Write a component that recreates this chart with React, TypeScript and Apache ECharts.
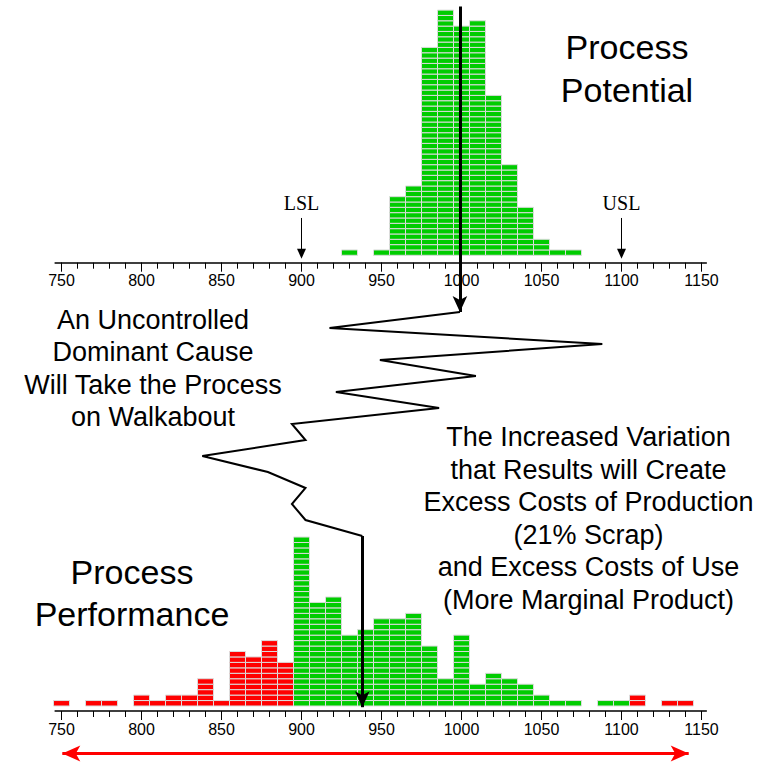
import React, { useEffect, useRef } from "react";
import * as echarts from "echarts";

// ---------- data ----------
const LSL = 900;
const USL = 1100;
const BIN_WIDTH = 10;
const majorTicks = [750, 800, 850, 900, 950, 1000, 1050, 1100, 1150];
const minorTicks = [
  750, 760, 770, 780, 790, 800, 810, 820, 830, 840, 850, 860, 870, 880, 890,
  900, 910, 920, 930, 940, 950, 960, 970, 980, 990, 1000, 1010, 1020, 1030,
  1040, 1050, 1060, 1070, 1080, 1090, 1100, 1110, 1120, 1130, 1140, 1150,
];

// Process Potential histogram (one brick per observation)
const potentialBins = [930, 950, 960, 970, 980, 990, 1000, 1010, 1020, 1030, 1040, 1050, 1060, 1070];
const potentialCounts = [1, 1, 11, 13, 39, 46, 43, 44, 30, 17, 9, 3, 1, 1];

// Process Performance histogram
const performanceBins = [
  750, 770, 780, 800, 810, 820, 830, 840, 850, 860, 870, 880, 890, 900, 910,
  920, 930, 940, 950, 960, 970, 980, 990, 1000, 1010, 1020, 1030, 1040, 1050,
  1060, 1070, 1090, 1100, 1110, 1130, 1140,
];
const performanceCounts = [
  1, 1, 1, 2, 1, 2, 2, 5, 1, 10, 9, 12, 8, 31, 19, 20, 13, 14, 16, 16, 17, 11,
  5, 13, 4, 6, 5, 4, 2, 1, 1, 1, 1, 2, 1, 1,
];

// The walkabout of the process mean (one value per period)
const walkMeans = [999, 917.5, 1088, 949, 1009, 921.5, 986, 894, 902.5, 838, 879, 902.5, 894, 902.5, 938];
const walkStartIdx = -19.1;
const walkEndIdx = 24.7;
const rangeArrowIdx = 27.6;
const performanceMin = 750.5;
const performanceMax = 1142;

const texts = {
  potential: "Process\nPotential",
  performance: "Process\nPerformance",
  cause: "An Uncontrolled\nDominant Cause\nWill Take the Process\non Walkabout",
  effect:
    "The Increased Variation\nthat Results will Create\nExcess Costs of Production\n(21% Scrap)\nand Excess Costs of Use\n(More Marginal Product)",
};

// ---------- layout ----------
const X_MIN = 746;
const X_MAX = 1153;
const PX_PER_UNIT = 1.6;
const X750 = 61.5;
const GRID_LEFT = X750 - (750 - X_MIN) * PX_PER_UNIT;
const GRID_WIDTH = (X_MAX - X_MIN) * PX_PER_UNIT;
const W = 765;
const H = 769;

const GREEN = "#00cc00";
const RED = "#ff0000";
const FONT = "'Liberation Sans', Arial, sans-serif";
const TICK_FONT = "'Liberation Sans', Arial, sans-serif";

function histAxes(gridIndex: number) {
  return [
    {
      type: "value",
      gridIndex,
      min: X_MIN,
      max: X_MAX,
      position: "bottom",
      axisLine: { show: true, onZero: false, lineStyle: { color: "#000", width: 1.5 } },
      axisTick: { show: true, customValues: minorTicks, length: 6, lineStyle: { color: "#000", width: 1 } },
      axisLabel: { show: false },
      splitLine: { show: false },
    },
    {
      type: "value",
      gridIndex,
      min: X_MIN,
      max: X_MAX,
      position: "bottom",
      axisLine: { show: false, onZero: false },
      axisTick: { show: true, customValues: majorTicks, length: 9, lineStyle: { color: "#000", width: 1 } },
      axisLabel: {
        show: true,
        customValues: majorTicks,
        formatter: (v: number) => String(v),
        color: "#000",
        fontSize: 16,
        fontFamily: TICK_FONT,
        margin: 10,
      },
      splitLine: { show: false },
    },
  ];
}

function brickSeries(bins: number[], counts: number[], xAxisIndex: number, yAxisIndex: number, colorBySpec: boolean) {
  return {
    type: "custom",
    xAxisIndex,
    yAxisIndex,
    silent: true,
    clip: false,
    data: bins.map((b, i) => [b, counts[i]]),
    encode: { x: 0, y: 1 },
    renderItem: (params: any, api: any) => {
      const x = api.value(0);
      const n = api.value(1);
      const fill = colorBySpec && (x < LSL || x > USL) ? RED : GREEN;
      const children: any[] = [];
      for (let k = 0; k < n; k++) {
        const a = api.coord([x - BIN_WIDTH / 2, k + 1]);
        const b = api.coord([x + BIN_WIDTH / 2, k]);
        children.push({
          type: "rect",
          shape: { x: a[0], y: a[1], width: b[0] - a[0], height: b[1] - a[1] },
          style: { fill, stroke: "#dcdcdc", lineWidth: 1 },
        });
      }
      return { type: "group", children };
    },
  };
}

export default function App() {
  const ref = useRef<HTMLDivElement>(null);

  useEffect(() => {
    if (!ref.current) return;
    document.body.style.margin = "0";
    const chart = echarts.init(ref.current, undefined, { renderer: "svg" });

    const topAxisY = 262.7;
    const topYMin = -1.39;
    const topYMax = 47;
    const topPitch = 5.33;
    const topHeight = (topYMax - topYMin) * topPitch;
    const botAxisY = 711;
    const botYMin = -0.92;
    const botYMax = 33;
    const botPitch = 5.45;
    const botHeight = (botYMax - botYMin) * botPitch;
    const walkYMin = -19.5;
    const walkYMax = 28.5;

    const option: any = {
      animation: false,
      backgroundColor: "#fff",
      grid: [
        { left: GRID_LEFT, width: GRID_WIDTH, top: topAxisY - topHeight, height: topHeight },
        { left: GRID_LEFT, width: GRID_WIDTH, top: botAxisY - botHeight, height: botHeight },
        { left: GRID_LEFT, width: GRID_WIDTH, top: 312 + walkYMin * 16, height: (walkYMax - walkYMin) * 16 },
      ],
      xAxis: [
        ...histAxes(0),
        ...histAxes(1),
        { type: "value", gridIndex: 2, min: X_MIN, max: X_MAX, show: false },
      ],
      yAxis: [
        { type: "value", gridIndex: 0, min: topYMin, max: topYMax, show: false },
        { type: "value", gridIndex: 1, min: botYMin, max: botYMax, show: false },
        { type: "value", gridIndex: 2, min: walkYMin, max: walkYMax, inverse: true, show: false },
      ],
      series: [
        brickSeries(potentialBins, potentialCounts, 0, 0, false),
        brickSeries(performanceBins, performanceCounts, 2, 1, true),
        {
          type: "line",
          xAxisIndex: 0,
          yAxisIndex: 0,
          data: [],
          markLine: {
            silent: true,
            animation: false,
            symbol: ["none", "triangle"],
            symbolSize: [9, 10],
            lineStyle: { color: "#000", width: 1, type: "solid" },
            label: {
              show: true,
              position: "start",
              distance: 5,
              color: "#000",
              fontSize: 20,
              fontFamily: "'Liberation Serif', 'Times New Roman', serif",
              formatter: (p: any) => p.name,
            },
            emphasis: { disabled: true },
            data: [
              [{ name: "LSL", coord: [LSL, 7] }, { coord: [LSL, 0.3] }],
              [{ name: "USL", coord: [USL, 7] }, { coord: [USL, 0.3] }],
            ],
          },
        },
        {
          type: "line",
          xAxisIndex: 4,
          yAxisIndex: 2,
          data: walkMeans.map((m, i) => [m, i]),
          symbol: "none",
          silent: true,
          lineStyle: { color: "#000", width: 2, join: "miter" },
          markLine: {
            silent: true,
            animation: false,
            symbol: ["none", "arrow"],
            symbolSize: [11, 16],
            lineStyle: { color: "#000", width: 3, type: "solid" },
            label: { show: false },
            emphasis: { disabled: true },
            data: [
              [{ coord: [walkMeans[0], walkStartIdx] }, { coord: [walkMeans[0], 0] }],
              [
                { coord: [walkMeans[walkMeans.length - 1], walkMeans.length - 1] },
                { coord: [walkMeans[walkMeans.length - 1], walkEndIdx] },
              ],
            ],
          },
        },
        {
          type: "line",
          xAxisIndex: 4,
          yAxisIndex: 2,
          data: [],
          markLine: {
            silent: true,
            animation: false,
            symbol: ["arrow", "arrow"],
            symbolSize: [12, 18],
            lineStyle: { color: RED, width: 3, type: "solid" },
            label: { show: false },
            emphasis: { disabled: true },
            data: [[{ coord: [performanceMin, rangeArrowIdx] }, { coord: [performanceMax, rangeArrowIdx] }]],
          },
        },
      ],
      graphic: [
        {
          type: "text",
          x: 627,
          y: 68,
          silent: true,
          style: { text: texts.potential, fontSize: 34, fontFamily: FONT, fill: "#000", align: "center", verticalAlign: "middle", lineHeight: 43 },
        },
        {
          type: "text",
          x: 132,
          y: 593,
          silent: true,
          style: { text: texts.performance, fontSize: 34, fontFamily: FONT, fill: "#000", align: "center", verticalAlign: "middle", lineHeight: 42 },
        },
        {
          type: "text",
          x: 153,
          y: 368.5,
          silent: true,
          style: { text: texts.cause, fontSize: 27, fontFamily: FONT, fill: "#000", align: "center", verticalAlign: "middle", lineHeight: 32.5 },
        },
        {
          type: "text",
          x: 588.5,
          y: 518.5,
          silent: true,
          style: { text: texts.effect, fontSize: 27, fontFamily: FONT, fill: "#000", align: "center", verticalAlign: "middle", lineHeight: 32.6 },
        },
      ],
    };
    chart.setOption(option);
    return () => chart.dispose();
  }, []);

  return <div ref={ref} style={{ position: "absolute", left: 0, top: 0, width: W, height: H }} />;
}
